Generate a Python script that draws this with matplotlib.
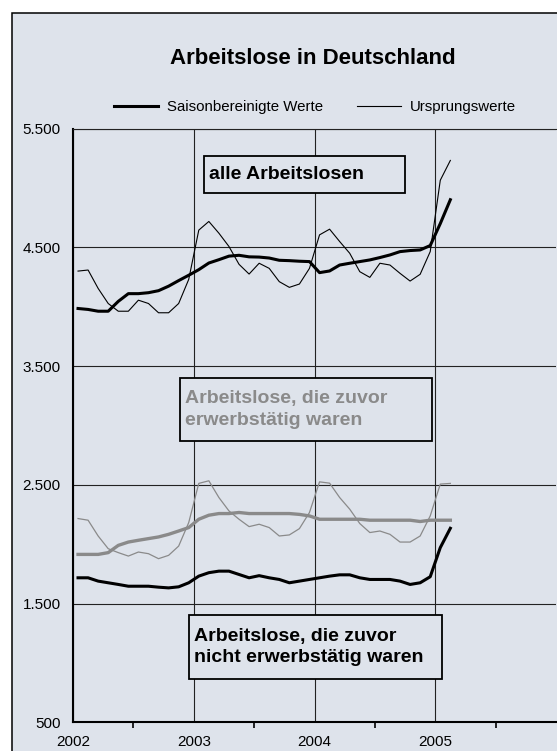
import matplotlib
matplotlib.use('Agg')
import matplotlib.pyplot as plt
import numpy as np
from matplotlib.patches import Rectangle
from matplotlib.lines import Line2D

plt.rcParams['font.family'] = ['Liberation Sans', 'DejaVu Sans']

# Monatswerte Jan 2002 - Feb 2005 (in Tausend)
monate = np.arange(38)
jahre = [2002, 2003, 2004, 2005]
jahr_labels = ['2002', '2003', '2004', '2005']
y_ticks = [500, 1500, 2500, 3500, 4500, 5500]
y_labels = ['500', '1.500', '2.500', '3.500', '4.500', '5.500']

alle_ursprung = [4300, 4309, 4154, 4027, 3962, 3962, 4055, 4027, 3949, 3949, 4027, 4230,
                 4645, 4718, 4619, 4507, 4357, 4275, 4366, 4323, 4211, 4163, 4191, 4323,
                 4605, 4653, 4549, 4450, 4295, 4247, 4366, 4351, 4281, 4216, 4273, 4464,
                 5065, 5232]
alle_saison = [3985, 3977, 3962, 3962, 4045, 4110, 4110, 4118, 4135, 4173, 4220, 4265,
               4312, 4368, 4396, 4426, 4433, 4420, 4418, 4410, 4391, 4388, 4383, 4380,
               4287, 4301, 4351, 4366, 4380, 4394, 4414, 4436, 4464, 4473, 4478, 4515,
               4700, 4901]
erwerb_ursprung = [2216, 2202, 2069, 1962, 1929, 1900, 1934, 1920, 1878, 1906, 1984, 2182,
                   2512, 2534, 2393, 2280, 2210, 2148, 2168, 2140, 2069, 2078, 2131, 2267,
                   2525, 2514, 2393, 2295, 2174, 2098, 2111, 2083, 2018, 2018, 2069, 2238,
                   2506, 2512]
erwerb_saison = [1914, 1914, 1914, 1929, 1990, 2018, 2033, 2047, 2061, 2083, 2111, 2140,
                 2210, 2244, 2258, 2258, 2267, 2258, 2258, 2258, 2258, 2258, 2251, 2238,
                 2210, 2210, 2210, 2210, 2210, 2202, 2202, 2202, 2202, 2202, 2191, 2202,
                 2202, 2202]
nicht_erwerb_saison = [1717, 1717, 1689, 1675, 1661, 1646, 1646, 1646, 1638, 1632, 1641, 1675,
                       1731, 1760, 1773, 1773, 1745, 1717, 1735, 1717, 1703, 1675, 1689, 1703,
                       1717, 1731, 1742, 1742, 1717, 1703, 1703, 1703, 1689, 1661, 1675, 1726,
                       1971, 2134]

BG = '#DEE3EB'
GRAU = '#8A8A8A'
W, H = 557, 751


def fx(px):
    return px / W


def fy(py):
    return 1 - py / H


fig = plt.figure(figsize=(W / 100, H / 100), dpi=100)
fig.patch.set_facecolor('white')

# Rahmen um das ganze Diagramm
fig.add_artist(Rectangle((fx(11.7), -0.1), 1.2, fy(12.8) + 0.1, transform=fig.transFigure,
                         facecolor=BG, edgecolor='black', lw=1.1, zorder=-10))

ax = fig.add_axes([fx(73), fy(722.3), (556 - 73) / W, (722.3 - 128.6) / H])
ax.set_facecolor(BG)
ax.set_xlim(2002, 2006)
ax.set_ylim(500, 5500)

x = 2002 + (monate + 0.5) / 12

ax.plot(x, erwerb_ursprung, color=GRAU, lw=0.9)
ax.plot(x, erwerb_saison, color=GRAU, lw=2.4)
ax.plot(x, nicht_erwerb_saison, color='black', lw=2.2)
ax.plot(x, alle_ursprung, color='black', lw=0.8)
ax.plot(x, alle_saison, color='black', lw=2.2)

ax.set_axisbelow(True)
ax.grid(True, which='major', color='#222222', lw=0.8)
ax.set_xticks(jahre)
ax.set_xticklabels(jahr_labels, family=['Liberation Sans Narrow', 'Liberation Sans'], fontsize=11)
ax.set_xticks([2002.5, 2003.5, 2004.5, 2005.5], minor=True)
ax.tick_params(axis='x', which='major', length=0, pad=9)
ax.tick_params(axis='x', which='minor', length=4, width=1.2, direction='out')
ax.set_yticks(y_ticks)
ax.set_yticklabels(y_labels, fontsize=11)
ax.tick_params(axis='y', length=0, pad=9)

ax.spines['left'].set_linewidth(1.5)
ax.spines['bottom'].set_linewidth(1.5)
ax.spines['top'].set_linewidth(0.8)
ax.spines['top'].set_color('#222222')
ax.spines['right'].set_visible(False)

fig.text(fx(313), fy(59), 'Arbeitslose in Deutschland', ha='center', va='center',
         fontsize=16, fontweight='bold')

handles = [Line2D([], [], color='black', lw=2.2), Line2D([], [], color='black', lw=0.8)]
fig.legend(handles, ['Saisonbereinigte Werte', 'Ursprungswerte'], loc='center',
           bbox_to_anchor=(fx(315), fy(107)), ncol=2, frameon=False, fontsize=10.8,
           handlelength=2.9, handletextpad=0.6, columnspacing=2.3, borderpad=0)


def textbox(x0, y0, x1, y1, text, color):
    fig.add_artist(Rectangle((fx(x0), fy(y1)), (x1 - x0) / W, (y1 - y0) / H,
                             transform=fig.transFigure, facecolor=BG, edgecolor='black',
                             lw=1.3, zorder=5))
    fig.text(fx(x0 + 5), fy((y0 + y1) / 2), text, ha='left', va='center', fontsize=14,
             fontweight='bold', color=color, linespacing=1.35, zorder=6)


textbox(204, 156, 405, 193, 'alle Arbeitslosen', 'black')
textbox(180, 378, 432, 441, 'Arbeitslose, die zuvor\nerwerbstätig waren', GRAU)
textbox(189, 615, 442, 679, 'Arbeitslose, die zuvor\nnicht erwerbstätig waren', 'black')

fig.savefig('out.png', dpi=100, facecolor=fig.get_facecolor())
